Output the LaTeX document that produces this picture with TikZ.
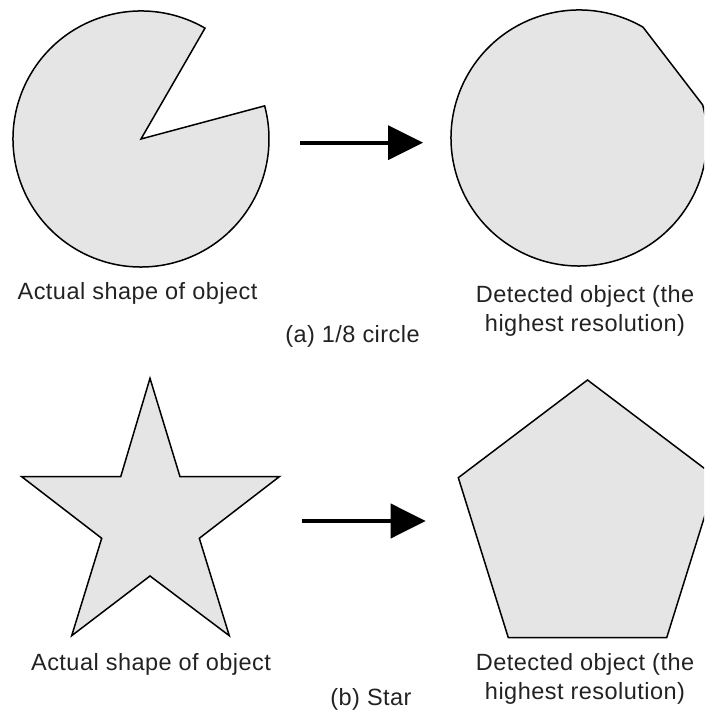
\documentclass[tikz,border=0pt]{standalone}
\usepackage{fontspec}
\setmainfont{Liberation Sans}
\newfontfamily\labelfont[LetterSpace=2]{Liberation Sans}
\usetikzlibrary{arrows.meta}
\definecolor{shapegray}{RGB}{229,229,229}
\definecolor{textgray}{RGB}{34,34,34}

\begin{document}
\begin{tikzpicture}[
    x=1pt, y=1pt,
    outline/.style={draw=black, line width=1.5pt, fill=shapegray, line join=miter},
    bigarrow/.style={-{Triangle[length=35pt, width=34pt]}, line width=4pt, black},
    caption/.style={font=\labelfont\fontsize{23.5}{29}\selectfont, text=textgray, inner sep=0pt, align=center}
]
\clip (0,0) rectangle (704,711);

% ===== (a) 1/8 circle =====
% Actual shape (circle with one eighth cut out)
\coordinate (pacC) at (141,572);
\draw[outline] (pacC) -- ++(60:128) arc[start angle=60, end angle=375, radius=128] -- cycle;

% Detected object
\coordinate (detC) at (579,573);
\draw[outline] ([shift={(60:128)}]detC) arc[start angle=60, end angle=375, radius=128] -- cycle;

% Arrow
\coordinate (arrAfrom) at (300,568.3);
\coordinate (arrAto) at (423,568.3);
\draw[bigarrow] (arrAfrom) -- (arrAto);

% Labels
\node[caption, anchor=base] (actualA) at (137.5,411.7) {Actual shape of object};
\node[caption, anchor=base] (detectA) at (585,379.3) {Detected object (the\\highest resolution)};
\node[caption, anchor=base] (subA) at (352.5,368) {(a) 1/8 circle};

% ===== (b) Star =====
% Actual shape (star)
\draw[outline] (150,332.7) -- (180,234.3) -- (279.3,234.3) -- (199.3,172.7)
    -- (229.3,75.3) -- (150,135) -- (71.7,75.3) -- (101.7,172.7)
    -- (21.7,234.3) -- (120.7,234.3) -- cycle;

% Detected object (pentagon)
\draw[outline] (587.5,331) -- (716.7,233.3) -- (666.7,73.3) -- (508.3,73.3) -- (458.3,233.3) -- cycle;

% Arrow
\coordinate (arrBfrom) at (301.7,190);
\coordinate (arrBto) at (425.7,190);
\draw[bigarrow] (arrBfrom) -- (arrBto);

% Labels
\node[caption, anchor=base] (actualB) at (151,40) {Actual shape of object};
\node[caption, anchor=base] (detectB) at (585,11) {Detected object (the\\highest resolution)};
\node[caption, anchor=base] (subB) at (371,5.5) {(b) Star};

\end{tikzpicture}
\end{document}
